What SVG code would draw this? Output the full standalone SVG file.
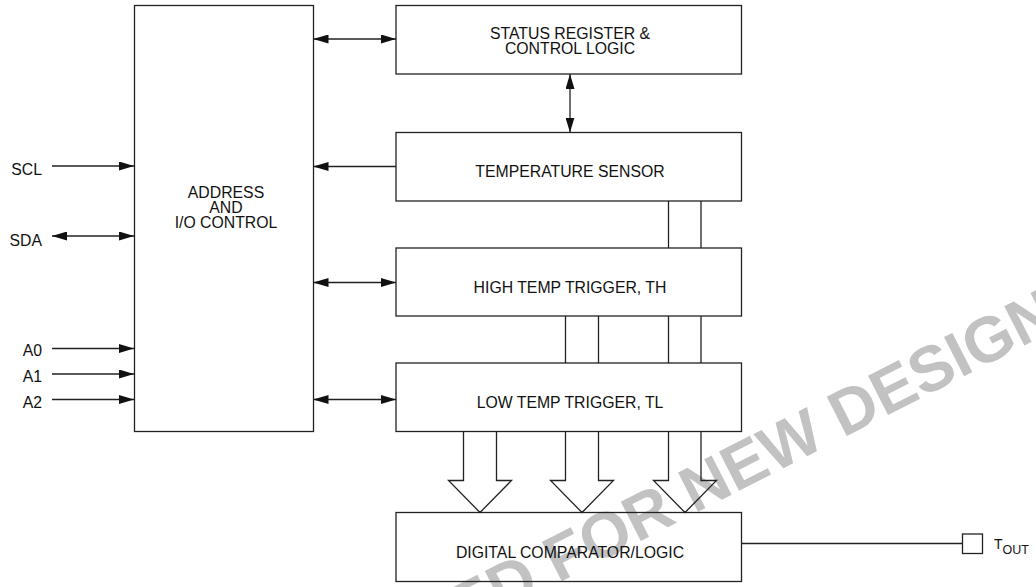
<svg xmlns="http://www.w3.org/2000/svg" width="1036" height="587" viewBox="0 0 1036 587">
<style>
.box{fill:none;stroke:#222;stroke-width:1.3}
.ln{fill:none;stroke:#222;stroke-width:1.3}
.t{font-family:"Liberation Sans",Arial,sans-serif;font-size:15.8px;fill:#111;text-anchor:middle}
.lbl{font-family:"Liberation Sans",Arial,sans-serif;font-size:15.8px;fill:#111;text-anchor:end}
.wm{font-family:"Liberation Sans",Arial,sans-serif;font-weight:bold;font-size:64px;fill:#c2c2c2;text-anchor:end}
</style>
<defs>
<marker id="ah" markerUnits="userSpaceOnUse" markerWidth="15" markerHeight="9" refX="15" refY="4.5" orient="auto-start-reverse">
<path d="M0,0 L15,4.5 L0,9 z" fill="#111"/>
</marker>
</defs>
<rect width="1036" height="587" fill="#fff"/>
<g id="watermark">
<text class="wm" transform="translate(843,438) rotate(-27)" x="245.4">NOT RECOMMENDED FOR NEW DESIGN</text>
</g>
<g id="connectors">
<path class="ln" d="M52,166 H134" marker-end="url(#ah)"/>
<path class="ln" d="M52,236 H134" marker-start="url(#ah)" marker-end="url(#ah)"/>
<path class="ln" d="M52,348.5 H134" marker-end="url(#ah)"/>
<path class="ln" d="M52,374 H134" marker-end="url(#ah)"/>
<path class="ln" d="M52,399.5 H134" marker-end="url(#ah)"/>
<path class="ln" d="M313.5,39 H396" marker-start="url(#ah)" marker-end="url(#ah)"/>
<path class="ln" d="M396,166.5 H313.5" marker-end="url(#ah)"/>
<path class="ln" d="M313.5,282.5 H396" marker-start="url(#ah)" marker-end="url(#ah)"/>
<path class="ln" d="M313.5,399.5 H396" marker-start="url(#ah)" marker-end="url(#ah)"/>
<path class="ln" d="M570,74 V132.5" marker-start="url(#ah)" marker-end="url(#ah)"/>
<path class="ln" d="M668.5,201 V248 M701,201 V248"/>
<path class="ln" d="M565.5,316 V363 M598.5,316 V363 M668.5,316 V363 M701,316 V363"/>
<path class="ln" d="M463.5,431.5 V480.5 H448.5 L480,512.5 L511.5,480.5 H496.5 V431.5"/>
<path class="ln" d="M565.5,431.5 V480.5 H550.5 L582,512.5 L613.5,480.5 H598.5 V431.5"/>
<path class="ln" d="M668.5,431.5 V480.5 H653.5 L685,512.5 L716.5,480.5 H701 V431.5"/>
<path class="ln" d="M741.5,543.5 H962.5"/>
</g>
<g id="address">
<rect class="box" x="134.5" y="5.5" width="179" height="426"/>
<text class="t" x="226" y="197.7">ADDRESS</text>
<text class="t" x="226" y="212.7">AND</text>
<text class="t" x="226" y="228">I/O CONTROL</text>
</g>
<g id="status">
<rect class="box" x="396" y="5.5" width="345.5" height="68.5"/>
<text class="t" x="570" y="39.3">STATUS REGISTER &amp;</text>
<text class="t" x="570" y="54">CONTROL LOGIC</text>
</g>
<g id="tempsensor">
<rect class="box" x="396" y="132.5" width="345.5" height="68.5"/>
<text class="t" x="570" y="177.3">TEMPERATURE SENSOR</text>
</g>
<g id="hightrigger">
<rect class="box" x="396" y="248" width="345.5" height="68"/>
<text class="t" x="570" y="292.5">HIGH TEMP TRIGGER, TH</text>
</g>
<g id="lowtrigger">
<rect class="box" x="396" y="363" width="345.5" height="68.5"/>
<text class="t" x="570" y="408.3">LOW TEMP TRIGGER, TL</text>
</g>
<g id="comparator">
<rect class="box" x="396" y="512.5" width="345.5" height="69"/>
<text class="t" x="570" y="558.3">DIGITAL COMPARATOR/LOGIC</text>
</g>
<g id="pins">
<text class="lbl" x="42" y="175">SCL</text>
<text class="lbl" x="42" y="246">SDA</text>
<text class="lbl" x="42" y="356">A0</text>
<text class="lbl" x="42" y="381.7">A1</text>
<text class="lbl" x="42" y="407.7">A2</text>
</g>
<g id="tout">
<rect class="box" x="962.5" y="534" width="20" height="19.5"/>
<text font-family="Liberation Sans, Arial, sans-serif" font-size="14" fill="#111" x="994" y="549.3">T<tspan font-size="12.5" y="554">OUT</tspan></text>
</g>
</svg>
